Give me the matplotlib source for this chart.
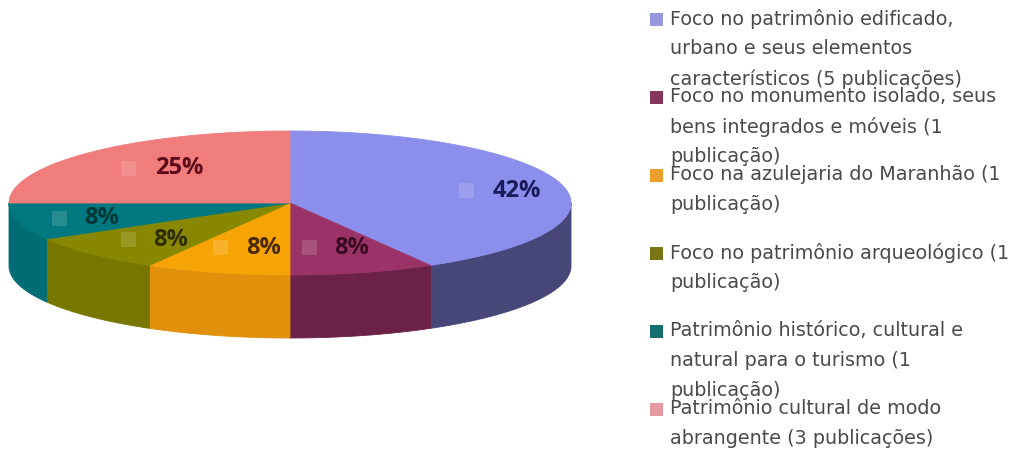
import numpy as np
import matplotlib
matplotlib.use("Agg")
import matplotlib.pyplot as plt
from matplotlib.patches import Polygon, Rectangle
from matplotlib.colors import to_rgb

# ---------------- data ----------------
categories = [
    "Foco no patrimônio edificado,\nurbano e seus elementos\ncaracterísticos (5 publicações)",
    "Foco no monumento isolado, seus\nbens integrados e móveis (1\npublicação)",
    "Foco na azulejaria do Maranhão (1\npublicação)",
    "Foco no patrimônio arqueológico (1\npublicação)",
    "Patrimônio histórico, cultural e\nnatural para o turismo (1\npublicação)",
    "Patrimônio cultural de modo\nabrangente (3 publicações)",
]
publications = [5, 1, 1, 1, 1, 3]

# ---------------- style ----------------
top_colors = ["#8B8EEB", "#9A3367", "#F5A305", "#878700", "#00787F", "#F07C7C"]
side_colors = ["#464678", "#6B2148", "#E0900A", "#777700", "#006D75", "#C06060"]
label_colors = ["#1A1A5A", "#3C0A22", "#4A2A00", "#2E2E00", "#003838", "#5A0A18"]
legend_colors = ["#9797DE", "#85365A", "#EBA02E", "#7A7616", "#156E6E", "#E59AA2"]
label_offsets = [(37, 1), (11, -4), (24, -4), (20, 1), (2, 2), (28, 1)]


def lighten(c, k):
    r = np.array(to_rgb(c))
    return tuple(r + (1 - r) * k)


key_colors = [lighten(c, 0.15) for c in top_colors]

W, H = 1022, 457
fig = plt.figure(figsize=(W / 100, H / 100), dpi=100)
ax = fig.add_axes([0, 0, 1, 1])
ax.set_xlim(0, W)
ax.set_ylim(H, 0)
ax.axis("off")

cx, cy, rx, ry, depth = 290, 203, 281, 72, 63


def pt(a_deg, dy=0.0):
    a = np.radians(a_deg)
    return cx + rx * np.cos(a), cy - ry * np.sin(a) + dy


total = float(sum(publications))
fracs = np.array(publications) / total
bounds = 90 - 360 * np.concatenate([[0], np.cumsum(fracs)])

# side walls (front half only: angles between -180 and 0)
for i in range(len(publications)):
    t1, t2 = bounds[i], bounds[i + 1]
    lo, hi = max(t2, -180), min(t1, 0)
    if hi <= lo:
        continue
    ang = np.linspace(lo, hi, 80)
    xs, ys = pt(ang)
    xb, yb = pt(ang[::-1], depth)
    poly = np.column_stack([np.concatenate([xs, xb]), np.concatenate([ys, yb])])
    ax.add_patch(Polygon(poly, closed=True, facecolor=side_colors[i],
                         edgecolor=side_colors[i], lw=0.6, zorder=2))

# top surfaces
for i in range(len(publications)):
    t1, t2 = bounds[i], bounds[i + 1]
    ang = np.linspace(t1, t2, 120)
    xs, ys = pt(ang)
    poly = np.column_stack([np.concatenate([[cx], xs]), np.concatenate([[cy], ys])])
    ax.add_patch(Polygon(poly, closed=True, facecolor=top_colors[i],
                         edgecolor=top_colors[i], lw=0.6, zorder=3))

# data labels with faint legend keys
for i, f in enumerate(fracs):
    mid = (bounds[i] + bounds[i + 1]) / 2
    a = np.radians(mid)
    x0 = cx + 0.7 * rx * np.cos(a) + label_offsets[i][0]
    y0 = cy - 0.7 * ry * np.sin(a) + label_offsets[i][1]
    txt = f"{round(f * 100):d}%"
    ax.text(x0, y0, txt, ha="center", va="center", fontsize=17,
            fontweight="bold", family="Open Sans", color=label_colors[i], zorder=5)
    off = 25 + 8.6 * len(txt)
    ax.add_patch(Rectangle((x0 - off - 7.5, y0 - 7.5), 15, 15,
                           facecolor=key_colors[i], edgecolor="none", zorder=4))

# legend
entry_top = 19
entry_step = 78
line_step = 30
for i, lab in enumerate(categories):
    y = entry_top + entry_step * i
    ax.add_patch(Rectangle((650, y - 6.5), 13, 13, facecolor=legend_colors[i],
                           edgecolor="none", zorder=4))
    for j, line in enumerate(lab.split("\n")):
        ax.text(670, y + j * line_step, line, ha="left", va="center",
                fontsize=13.8, family="DejaVu Sans", color="#4A4A4A", zorder=5)

fig.savefig("out.png", dpi=100, facecolor="white")
